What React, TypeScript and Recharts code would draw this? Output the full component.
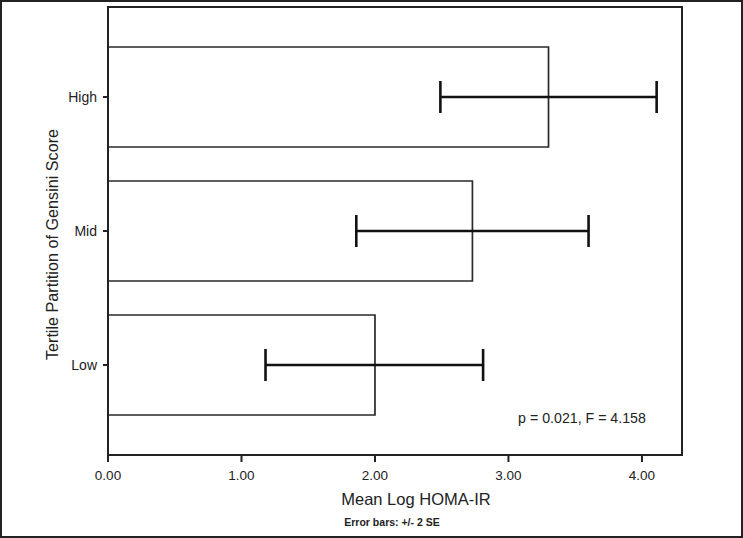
import React from 'react';
import { BarChart, Bar, XAxis, YAxis, ErrorBar, Label } from 'recharts';

const categories = ['High', 'Mid', 'Low'];
const meanValues = [3.3, 2.73, 2.0];
const lowerBounds = [2.49, 1.86, 1.18];
const upperBounds = [4.11, 3.6, 2.81];
const xTicks = [0, 1, 2, 3, 4];
const xDomain = [0, 4.3];

const xTitle = 'Mean Log HOMA-IR';
const yTitle = 'Tertile Partition of Gensini Score';
const statText = 'p = 0.021, F = 4.158';
const noteText = 'Error bars: +/- 2 SE';

const data = categories.map((name, i) => ({
  name,
  mean: meanValues[i],
  err: [meanValues[i] - lowerBounds[i], upperBounds[i] - meanValues[i]],
}));

const FONT = '"Liberation Sans", Arial, Helvetica, sans-serif';

export default function App() {
  return (
    <div style={{ position: 'absolute', left: 0, top: 0, width: 743, height: 538, background: '#fff' }}>
      <BarChart
        width={743}
        height={538}
        data={data}
        layout="vertical"
        margin={{ top: 7, right: 61, bottom: 0, left: 0 }}
        barCategoryGap={0}
      >
        <XAxis
          type="number"
          dataKey="mean"
          domain={xDomain}
          ticks={xTicks}
          allowDataOverflow
          tickFormatter={(v: number) => v.toFixed(2)}
          height={83}
          axisLine={{ stroke: '#222', strokeWidth: 2 }}
          tickLine={{ stroke: '#222', strokeWidth: 2 }}
          tickSize={7}
          tickMargin={8}
          tick={{ fill: '#222', fontSize: 13.5, fontFamily: FONT }}
        >
          <Label
            content={() => (
              <g>
                <text x={416} y={505} textAnchor="middle" fill="#222" fontSize={16.5} fontFamily={FONT}>
                  {xTitle}
                </text>
                <text x={392} y={526} textAnchor="middle" fill="#222" fontSize={10.5} fontWeight="bold" fontFamily={FONT}>
                  {noteText}
                </text>
                <text x={582} y={423} textAnchor="middle" fill="#222" fontSize={14.2} fontFamily={FONT}>
                  {statText}
                </text>
              </g>
            )}
          />
        </XAxis>
        <YAxis
          type="category"
          dataKey="name"
          width={108}
          padding={{ top: 23, bottom: 23 }}
          axisLine={{ stroke: '#222', strokeWidth: 2 }}
          tickLine={{ stroke: '#222', strokeWidth: 2 }}
          tickSize={5}
          tickMargin={6}
          tick={{ fill: '#222', fontSize: 14, fontFamily: FONT }}
        >
          <Label
            content={() => (
              <text
                x={52}
                y={244.5}
                transform="rotate(-90 52 244.5)"
                textAnchor="middle"
                dominantBaseline="central"
                fill="#222"
                fontSize={16.2}
                fontFamily={FONT}
              >
                {yTitle}
              </text>
            )}
          />
        </YAxis>
        <Bar
          dataKey="mean"
          fill="#fff"
          stroke="#2a2a2a"
          strokeWidth={1.7}
          barSize={100}
          isAnimationActive={false}
        >
          <ErrorBar dataKey="err" direction="x" width={16} stroke="#111" strokeWidth={2.6} />
        </Bar>
      </BarChart>
      <div
        style={{
          position: 'absolute',
          left: 107,
          top: 6,
          width: 576,
          height: 450,
          boxSizing: 'border-box',
          borderTop: '2px solid #222',
          borderRight: '2px solid #222',
          pointerEvents: 'none',
        }}
      />
      <div
        style={{
          position: 'absolute',
          left: 0,
          top: 0,
          width: 743,
          height: 538,
          boxSizing: 'border-box',
          border: '2px solid #222',
          pointerEvents: 'none',
        }}
      />
    </div>
  );
}
